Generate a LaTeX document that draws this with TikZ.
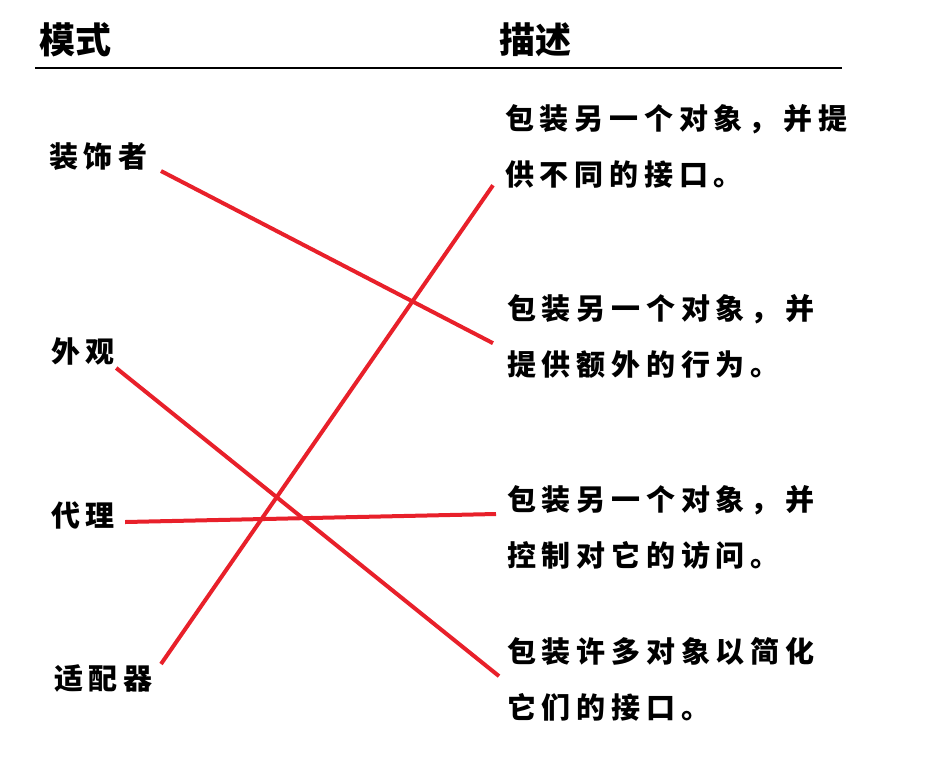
\documentclass[tikz,border=0pt]{standalone}
\usepackage{fontspec}
\usepackage{tikz}
\usetikzlibrary{positioning}
\newfontfamily\cjk{Noto Sans CJK SC}[LetterSpace=20]
\newfontfamily\cjkhead{Noto Sans CJK SC}
\definecolor{linkred}{HTML}{E8202A}

\begin{document}
\begin{tikzpicture}[x=1pt,y=-1pt,
  head/.style={anchor=west,inner sep=0pt,font=\cjkhead\bfseries\fontsize{36}{36}\selectfont},
  pattern/.style={anchor=west,inner sep=0pt,font=\cjk\bfseries\fontsize{29}{29}\selectfont},
  desc/.style={anchor=north west,inner sep=0pt,align=left,
    font=\cjk\bfseries\fontsize{29}{56}\selectfont},
  link/.style={linkred,line width=4pt}]
\useasboundingbox (0,0) rectangle (939,756);
\node[head] (mode) at (39,40) {模式};
\node[head] (about) at (499,40) {描述};
\draw[line width=1.6pt] (35,68) -- (842,68);
% patterns on the left
\node[pattern] (dec) at (49,157) {装饰者};
\node[pattern] (fac) at (51,351) {外观};
\node[pattern] (prx) at (51,515) {代理};
\node[pattern] (adp) at (54,678) {适配器};
% descriptions on the right
\node[desc] (d1) at (505,104) {包装另一个对象，并提\\供不同的接口。};
\node[desc] (d2) at (507,294) {包装另一个对象，并\\提供额外的行为。};
\node[desc] (d3) at (507,485) {包装另一个对象，并\\控制对它的访问。};
\node[desc] (d4) at (507,637) {包装许多对象以简化\\它们的接口。};
\draw[link] ([shift={(13,14)}]dec.east) -- ([shift={(-14,7)}]d2.west);
\draw[link] ([shift={(1,17)}]fac.east) -- ([shift={(-8,-3)}]d4.west);
\draw[link] ([shift={(10,7)}]prx.east) -- ([shift={(-11,29)}]d3.north west);
\draw[link] ([shift={(8,-14)}]adp.east) -- ([shift={(-12,-3)}]d1.south west);
\end{tikzpicture}
\end{document}
